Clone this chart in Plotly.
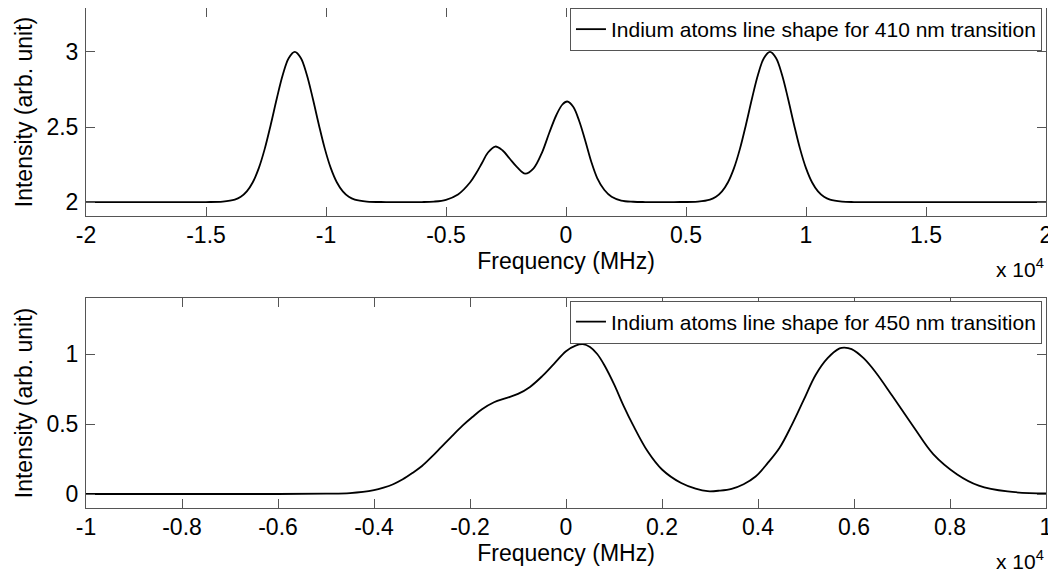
import plotly.graph_objects as go

# ---- data (frequency in MHz, intensity arb. unit) ----
freq_410 = [-20000, -16000, -15000, -14300, -13800, -13550, -13300, -13050, -12800, -12550,
            -12300, -12050, -11800, -11550, -11300, -11050, -10800, -10550, -10300, -10050,
            -9800, -9550, -9300, -9050, -8800, -8300, -7500, -6500,
            -6000, -5500, -5000, -4500, -4000, -3750, -3500, -3250, -2950, -2650, -2350,
            -2050, -1700, -1350, -1000, -700, -400, -150, 50, 300, 550, 800, 1050, 1300,
            1600, 1900, 2300, 2800, 3300, 4500,
            5500, 6000, 6250, 6500, 6750, 7000, 7250, 7500, 7750, 8000, 8250, 8500,
            8750, 9000, 9250, 9500, 9750, 10000, 10250, 10500, 10750, 11000, 11500,
            12000, 13000, 15000, 20000]
int_410 = [2.0, 2.0, 2.0, 2.003, 2.016, 2.035, 2.071, 2.132, 2.226, 2.356,
           2.517, 2.69, 2.848, 2.96, 3.0, 2.96, 2.848, 2.69, 2.517, 2.356,
           2.226, 2.132, 2.071, 2.035, 2.016, 2.003, 2.0, 2.0,
           2.0, 2.003, 2.015, 2.05, 2.13, 2.19, 2.26, 2.33, 2.37, 2.345, 2.29,
           2.235, 2.19, 2.225, 2.33, 2.46, 2.58, 2.65, 2.67, 2.635, 2.54, 2.41, 2.27, 2.16,
           2.08, 2.035, 2.01, 2.002, 2.0, 2.0,
           2.003, 2.016, 2.035, 2.071, 2.132, 2.226, 2.356, 2.517, 2.69, 2.848, 2.96, 3.0,
           2.96, 2.848, 2.69, 2.517, 2.356, 2.226, 2.132, 2.071, 2.035, 2.016, 2.003,
           2.0, 2.0, 2.0, 2.0]

freq_450 = [-10000, -8000, -6000, -5000, -4500, -4000, -3800, -3600, -3400, -3200, -3000,
            -2800, -2600, -2400, -2150, -1950, -1750, -1500, -1250, -1000, -750, -500, -250,
            0, 200, 350, 500, 650, 800, 1000, 1200, 1400, 1700, 2000, 2400, 2700, 2950,
            3200, 3450, 3700, 3950, 4200, 4450, 4700, 4950, 5200, 5450, 5700, 5800, 5950,
            6200, 6450, 6800, 7250, 7650, 8150, 8600, 9200, 10000]
int_450 = [0.0, 0.0, 0.0, 0.002, 0.006, 0.027, 0.045, 0.07, 0.105, 0.15, 0.2,
           0.265, 0.335, 0.405, 0.49, 0.55, 0.605, 0.655, 0.685, 0.715, 0.765, 0.84, 0.93,
           1.02, 1.06, 1.07, 1.05, 1.0, 0.92, 0.785, 0.63, 0.49, 0.305, 0.175, 0.078, 0.038, 0.02,
           0.024, 0.037, 0.07, 0.125, 0.22, 0.33, 0.49, 0.67, 0.85, 0.97, 1.04, 1.046, 1.035,
           0.97, 0.87, 0.70, 0.475, 0.285, 0.14, 0.06, 0.018, 0.004]

xticks_top = [-20000, -15000, -10000, -5000, 0, 5000, 10000, 15000, 20000]
xticklabels_top = ["-2", "-1.5", "-1", "-0.5", "0", "0.5", "1", "1.5", "2"]
yticks_top = [2, 2.5, 3]
yticklabels_top = ["2", "2.5", "3"]
xticks_bot = [-10000, -8000, -6000, -4000, -2000, 0, 2000, 4000, 6000, 8000, 10000]
xticklabels_bot = ["-1", "-0.8", "-0.6", "-0.4", "-0.2", "0", "0.2", "0.4", "0.6", "0.8", "1"]
yticks_bot = [0, 0.5, 1]
yticklabels_bot = ["0", "0.5", "1"]

name_410 = "Indium atoms line shape for 410 nm transition"
name_450 = "Indium atoms line shape for 450 nm transition"

FONT = "Liberation Sans, Arial, sans-serif"
AXCOL = "#555555"

fig = go.Figure()
fig.add_trace(go.Scatter(x=freq_410, y=int_410, mode="lines", name=name_410,
                         line=dict(color="black", width=1.8, shape="spline", smoothing=1.0),
                         xaxis="x", yaxis="y", legend="legend"))
fig.add_trace(go.Scatter(x=freq_450, y=int_450, mode="lines", name=name_450,
                         line=dict(color="black", width=1.8, shape="spline", smoothing=1.0),
                         xaxis="x2", yaxis="y2", legend="legend2"))

axis_common = dict(showline=True, linecolor=AXCOL, linewidth=1, mirror="allticks",
                   ticks="inside", ticklen=9, tickcolor=AXCOL, tickwidth=1,
                   showgrid=False, zeroline=False, automargin=False,
                   ticklabeloverflow="allow",
                   tickfont=dict(family=FONT, size=23, color="black"))

title_font = dict(family=FONT, size=23, color="black")

fig.update_layout(
    width=1048, height=568,
    paper_bgcolor="white", plot_bgcolor="white",
    margin=dict(l=78, r=10, t=0, b=68),
    showlegend=True,
    xaxis=dict(domain=[0, 1], anchor="y", range=[-20000, 20000],
               tickvals=xticks_top, ticktext=xticklabels_top, ticklabelstandoff=-2,
               title=dict(text="Frequency (MHz)", font=title_font, standoff=0), **axis_common),
    yaxis=dict(domain=[0.584, 1], anchor="x", range=[1.907, 3.293],
               tickvals=yticks_top, ticktext=yticklabels_top, ticklabelstandoff=2,
               title=dict(text="Intensity (arb. unit)", font=title_font, standoff=7), **axis_common),
    xaxis2=dict(domain=[0, 1], anchor="y2", range=[-10000, 10000],
                tickvals=xticks_bot, ticktext=xticklabels_bot, ticklabelstandoff=-2,
                title=dict(text="Frequency (MHz)", font=title_font, standoff=0), **axis_common),
    yaxis2=dict(domain=[0, 0.42], anchor="x2", range=[-0.1, 1.4],
                tickvals=yticks_bot, ticktext=yticklabels_bot, ticklabelstandoff=2,
                title=dict(text="Intensity (arb. unit)", font=title_font, standoff=7), **axis_common),
    legend=dict(x=0.9958, y=1.0, xanchor="right", yanchor="top",
                bgcolor="white", bordercolor=AXCOL, borderwidth=1,
                font=dict(family=FONT, size=21, color="black"),
                itemwidth=30, tracegroupgap=0),
    legend2=dict(x=0.9958, y=0.415, xanchor="right", yanchor="top",
                 bgcolor="white", bordercolor=AXCOL, borderwidth=1,
                 font=dict(family=FONT, size=21, color="black"),
                 itemwidth=30, tracegroupgap=0),
    annotations=[
        dict(text="x 10<sup>4</sup>", xref="paper", yref="paper", x=1.0, y=0.48,
             xanchor="right", yanchor="middle", showarrow=False,
             font=dict(family=FONT, size=21, color="black")),
        dict(text="x 10<sup>4</sup>", xref="paper", yref="paper", x=1.0, y=-0.104,
             xanchor="right", yanchor="middle", showarrow=False,
             font=dict(family=FONT, size=21, color="black")),
    ],
)

fig.write_html("out.html")
